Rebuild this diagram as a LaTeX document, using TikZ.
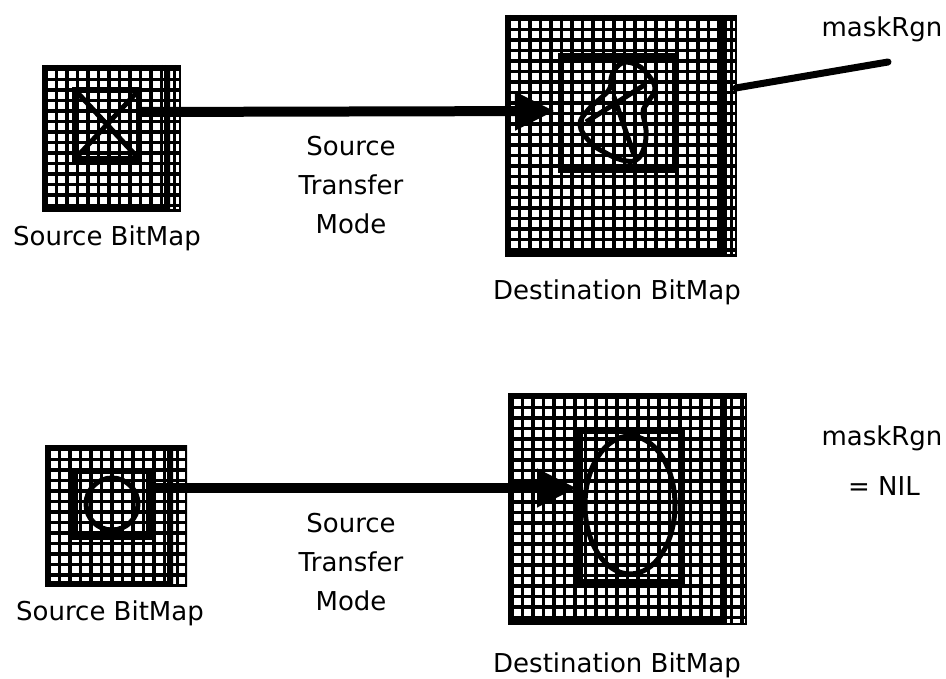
\documentclass[tikz,border=0pt]{standalone}
\usepackage{fontspec}
\setmainfont{DejaVu Sans}
\usetikzlibrary{arrows.meta, positioning}
\tikzset{
  bitmap/.style={rectangle, draw=black, line width=6pt, inner sep=0pt, outer sep=0pt},
  shadowmap/.style={rectangle, draw=black, line width=2.5pt, inner sep=0pt, outer sep=0pt},
  window/.style={rectangle, draw=black, line width=6pt, inner sep=0pt, outer sep=0pt},
  pen/.style={line width=5pt, draw=black, line join=round},
  mover/.style={-{Triangle[length=40pt, width=36pt]}, line width=10pt, draw=black},
  gridline/.style={line width=3.7pt, black},
  txt/.style={font=\fontsize{26}{39}\selectfont, inner sep=0pt, anchor=base},
}
% white cells on black lines, clipped to a box
\newcommand{\bitgrid}[4]{%
  \fill[white] (#1,#2) rectangle (#3,#4);
  \begin{scope}
    \clip (#1,#2) rectangle (#3,#4);
    \foreach \k in {0,...,24} {
      \draw[gridline] ({#1+4+\k*10.5},#2) -- ({#1+4+\k*10.5},#4);
      \draw[gridline] (#1,{#2+4+\k*10.5}) -- (#3,{#2+4+\k*10.5});
    }
  \end{scope}}

\begin{document}
\begin{tikzpicture}[x=1pt, y=-1pt]
        \fill[white] (0,0) rectangle (946,679);
        \useasboundingbox (0,0) rectangle (946,679);
        % top: source bitmap
        \bitgrid{160}{65}{181}{212}
        \node[shadowmap, minimum width=18.5pt, minimum height=144.5pt] (srcaback) at (170.5,138.5) {};
        \bitgrid{42}{65}{170}{212}
        \node[bitmap, minimum width=122pt, minimum height=141pt] (srca) at (106,138.5) {};
        \node[window, minimum width=64pt, minimum height=69pt] (srcain) at (107,124.5) {};
        \draw[pen] (srcain.north west) -- (srcain.south east);
        \draw[pen] (srcain.north east) -- (srcain.south west);
        % top: destination bitmap
        \bitgrid{717}{15}{737}{257}
        \node[shadowmap, minimum width=17.5pt, minimum height=239.5pt] (dstaback) at (727,136) {};
        \bitgrid{505}{15}{727}{257}
        \node[bitmap, minimum width=216pt, minimum height=236pt] (dsta) at (616,136) {};
        \node[window, minimum width=114pt, minimum height=114pt] (dstain) at (618,113) {};
        \draw[pen] plot[smooth cycle, tension=.7] coordinates {(612,75) (622,63) (637,65) (649,76) (655,89)
          (648,102) (643,112) (646,130) (644,148) (636,160) (622,160) (604,152) (590,142) (580,125)
          (588,110) (601,98) (610,88)};
        \draw[pen] (586,122) -- (646,84);
        \draw[pen] (614,97) -- (634,155);
        \draw[mover, shorten >=6pt] ([yshift=12.5pt]srcain.east) -- ([yshift=2pt]dstain.west);
        \coordinate (maskend) at (888,62);
        \draw[pen, line width=7pt, line cap=round] ([yshift=48pt]dstaback.east) -- (maskend);
        \node[txt] (srcatxt) at (107,246) {Source BitMap};
        \node[txt, align=center] (modea) at (351,234) {Source\\Transfer\\Mode};
        \node[txt] (dstatxt) at (617,300) {Destination BitMap};
        \node[txt] (maskatxt) at (882,37) {maskRgn};
        % bottom: source bitmap
        \bitgrid{163}{445}{187}{587}
        \node[shadowmap, minimum width=21.5pt, minimum height=139.5pt] (srcbback) at (175,516) {};
        \bitgrid{45}{445}{173}{587}
        \node[bitmap, minimum width=122pt, minimum height=136pt] (srcb) at (109,516) {};
        \node[window, minimum width=74pt, minimum height=66pt] (srcbin) at (112,504) {};
        \draw[pen] (srcbin.center) circle[radius=26pt];
        % bottom: destination bitmap
        \bitgrid{717}{393}{747}{625}
        \node[shadowmap, minimum width=27.5pt, minimum height=229.5pt] (dstbback) at (732,509) {};
        \bitgrid{508}{393}{727}{625}
        \node[bitmap, minimum width=213pt, minimum height=226pt] (dstb) at (617.5,509) {};
        \node[window, minimum width=102pt, minimum height=151pt] (dstbin) at (631,506.5) {};
        \draw[pen] ([xshift=-1pt,yshift=1.5pt]dstbin.center) ellipse[x radius=45pt, y radius=69pt];
        \draw[mover, shorten >=3pt] ([yshift=16pt]srcbin.east) -- ([yshift=18.5pt]dstbin.west);
        \node[txt] (srcbtxt) at (110,620) {Source BitMap};
        \node[txt, align=center] (modeb) at (351,610) {Source\\Transfer\\Mode};
        \node[txt] (dstbtxt) at (617,672) {Destination BitMap};
        \node[txt] (maskbtxt) at (882,445) {maskRgn};
        \node[txt] (nilb) at (884,495) {= NIL};
    \end{tikzpicture}
\end{document}
